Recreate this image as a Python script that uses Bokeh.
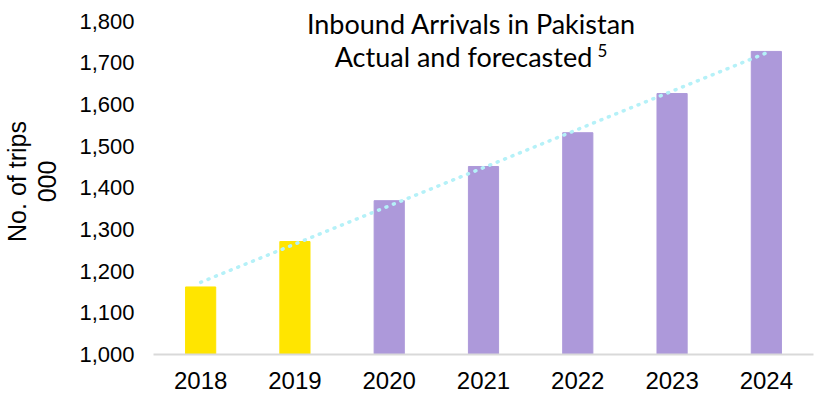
import numpy as np
from bokeh.plotting import figure
from bokeh.models import ColumnDataSource, Range1d, NumeralTickFormatter, FixedTicker, Label
from bokeh.embed import file_html
from bokeh.resources import INLINE

years = ["2018", "2019", "2020", "2021", "2022", "2023", "2024"]
trips = [1162, 1271, 1369, 1451, 1532, 1626, 1727]
status = ["actual", "actual", "forecast", "forecast", "forecast", "forecast", "forecast"]
y_ticks = [1000, 1100, 1200, 1300, 1400, 1500, 1600, 1700, 1800]

title_line1 = "Inbound Arrivals in Pakistan"
title_line2 = "Actual and forecasted"
title_note = "5"
y_title = "No. of trips\n000"

YELLOW = "#FFE500"
PURPLE = "#AD99DA"
TREND = "#B5F1F8"

colors = [YELLOW if s == "actual" else PURPLE for s in status]
src = ColumnDataSource(dict(x=years, top=trips, color=colors))

p = figure(x_range=years, y_range=Range1d(1000, 1830),
           width=815, height=404, output_backend="svg", toolbar_location=None,
           min_border_left=152, min_border_right=2, min_border_top=8, min_border_bottom=50)
p.outline_line_color = None
p.grid.grid_line_color = None
p.background_fill_color = "white"
p.border_fill_color = "white"

p.vbar(x="x", top="top", bottom=1000, width=0.32, color="color", source=src)

# linear trend line (least squares on the data)
idx = np.arange(len(trips))
slope, intercept = np.polyfit(idx, trips, 1)
trend_y = [intercept, intercept + slope * (len(trips) - 1)]
p.line(x=[years[0], years[-1]], y=trend_y, line_color=TREND, line_width=3.5,
       line_dash="1 7", line_cap="round")

# y axis
p.yaxis.ticker = FixedTicker(ticks=y_ticks)
p.yaxis.formatter = NumeralTickFormatter(format="0,0")
p.yaxis.axis_line_color = None
p.yaxis.major_tick_line_color = None
p.yaxis.minor_tick_line_color = None
p.yaxis.major_tick_out = 0
p.yaxis.major_tick_in = 0
p.yaxis.major_label_standoff = 19
p.yaxis.major_label_text_font = "Liberation Sans"
p.yaxis.major_label_text_font_size = "22px"
p.yaxis.major_label_text_color = "#000000"
p.yaxis.axis_label = y_title
p.yaxis.axis_label_text_font = "Liberation Sans"
p.yaxis.axis_label_text_font_size = "25px"
p.yaxis.axis_label_text_line_height = 1.08
p.yaxis.axis_label_text_font_style = "normal"
p.yaxis.axis_label_text_color = "#000000"
p.yaxis.axis_label_standoff = 15

# x axis
p.xaxis.axis_line_color = "#D9D9D9"
p.xaxis.axis_line_width = 2
p.xaxis.major_tick_line_color = None
p.xaxis.minor_tick_line_color = None
p.xaxis.major_tick_out = 0
p.xaxis.major_tick_in = 0
p.xaxis.major_label_standoff = 17
p.xaxis.major_label_text_font = "Liberation Sans"
p.xaxis.major_label_text_font_size = "24px"
p.xaxis.major_label_text_color = "#000000"

# title inside the plot area
t1 = Label(x=318, y=331, x_units="screen", y_units="screen", text=title_line1,
           text_align="center", text_baseline="alphabetic",
           text_font="Lato", text_font_size="27px", text_color="#000000")
t2 = Label(x=310, y=298, x_units="screen", y_units="screen", text=title_line2,
           text_align="center", text_baseline="alphabetic",
           text_font="Lato", text_font_size="27px", text_color="#000000")
t3 = Label(x=444, y=304, x_units="screen", y_units="screen", text=title_note,
           text_align="left", text_baseline="alphabetic",
           text_font="Lato", text_font_size="17px", text_color="#000000")
for t in (t1, t2, t3):
    p.add_layout(t)

open("out.html", "w").write(file_html(p, INLINE))
